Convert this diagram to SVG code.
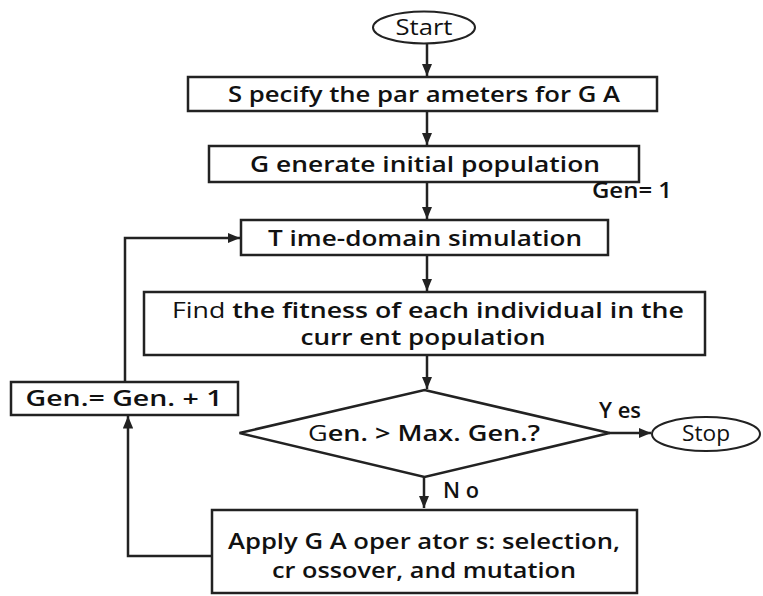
<svg xmlns="http://www.w3.org/2000/svg" width="763" height="596" viewBox="0 0 763 596">
<defs>
<marker id="ah" viewBox="0 0 12 10" refX="12" refY="5" markerWidth="5" markerHeight="4.2" orient="auto" markerUnits="strokeWidth">
<path d="M0,0 L12,5 L0,10 z" fill="#222"/>
</marker>
<style>
.n{fill:#fff;stroke:#222;stroke-width:2.5}
.e{fill:#fff;stroke:#222;stroke-width:2}
.t{font-family:"Open Sans","Noto Sans",sans-serif;font-weight:600;font-size:22px;fill:#111;text-anchor:middle}
.r{font-weight:400}
.m{font-weight:500}
.c{fill:none;stroke:#222;stroke-width:2.5;marker-end:url(#ah)}
</style>
</defs>
<rect width="763" height="596" fill="#fff"/>
<g id="connectors">
<line class="c" x1="427" y1="44" x2="427" y2="76"/>
<line class="c" x1="427" y1="111" x2="427" y2="145"/>
<line class="c" x1="427" y1="182" x2="427" y2="219"/>
<line class="c" x1="427" y1="255" x2="427" y2="291"/>
<line class="c" x1="427" y1="355" x2="427" y2="389"/>
<line class="c" x1="424" y1="477" x2="424" y2="508"/>
<line class="c" x1="609" y1="433" x2="651" y2="433"/>
<polyline class="c" points="212,556 128,556 128,416"/>
<polyline class="c" points="125,382 125,238 240,238"/>
</g>
<g id="start">
<ellipse class="e" cx="424" cy="27.5" rx="51" ry="16"/>
<text class="t m" x="424" y="35" font-size="21" textLength="57" lengthAdjust="spacingAndGlyphs">Start</text>
</g>
<g id="specify">
<rect class="n" x="188" y="77" width="469" height="34"/>
<text class="t" x="424" y="101.5" textLength="392" lengthAdjust="spacingAndGlyphs">S pecify the par ameters for G A</text>
</g>
<g id="generate">
<rect class="n" x="209" y="146" width="430" height="36"/>
<text class="t" x="425" y="171.5" textLength="350" lengthAdjust="spacingAndGlyphs">G enerate initial population</text>
</g>
<g id="gen1">
<text class="t" x="632" y="198" font-size="17" textLength="80" lengthAdjust="spacingAndGlyphs">Gen= 1</text>
</g>
<g id="timedomain">
<rect class="n" x="241" y="220" width="367" height="35"/>
<text class="t" x="425" y="245.5" textLength="314" lengthAdjust="spacingAndGlyphs">T ime-domain simulation</text>
</g>
<g id="fitness">
<rect class="n" x="144" y="292" width="561" height="63"/>
<text class="t" x="428" y="318" textLength="512" lengthAdjust="spacingAndGlyphs"><tspan class="r">Find</tspan> the fitness of each individual in the</text>
<text class="t" x="423" y="345" textLength="245" lengthAdjust="spacingAndGlyphs">curr ent population</text>
</g>
<g id="decision">
<polygon class="n" points="424.5,390 609.5,433 424.5,477 239.5,433"/>
<text class="t" x="424" y="441" textLength="232" lengthAdjust="spacingAndGlyphs"><tspan class="r">G</tspan>en. &gt; Max. Gen.?</text>
</g>
<g id="stop">
<ellipse class="e" cx="706" cy="434" rx="54" ry="17"/>
<text class="t m" x="706" y="441" font-size="21" textLength="48" lengthAdjust="spacingAndGlyphs">Stop</text>
</g>
<g id="labels">
<text class="t" x="620" y="418" font-size="21" textLength="42" lengthAdjust="spacingAndGlyphs">Y es</text>
<text class="t" x="461" y="498" font-size="21" textLength="36" lengthAdjust="spacingAndGlyphs">N o</text>
</g>
<g id="apply">
<rect class="n" x="212" y="510" width="425" height="83"/>
<text class="t" x="424" y="549" textLength="392" lengthAdjust="spacingAndGlyphs">Apply G A oper ator s: selection,</text>
<text class="t" x="424" y="578" textLength="304" lengthAdjust="spacingAndGlyphs">cr ossover, and mutation</text>
</g>
<g id="geninc">
<rect class="n" x="11" y="382" width="227" height="33"/>
<text class="t" x="124" y="406" textLength="197" lengthAdjust="spacingAndGlyphs">Gen.= Gen. + 1</text>
</g>
</svg>
